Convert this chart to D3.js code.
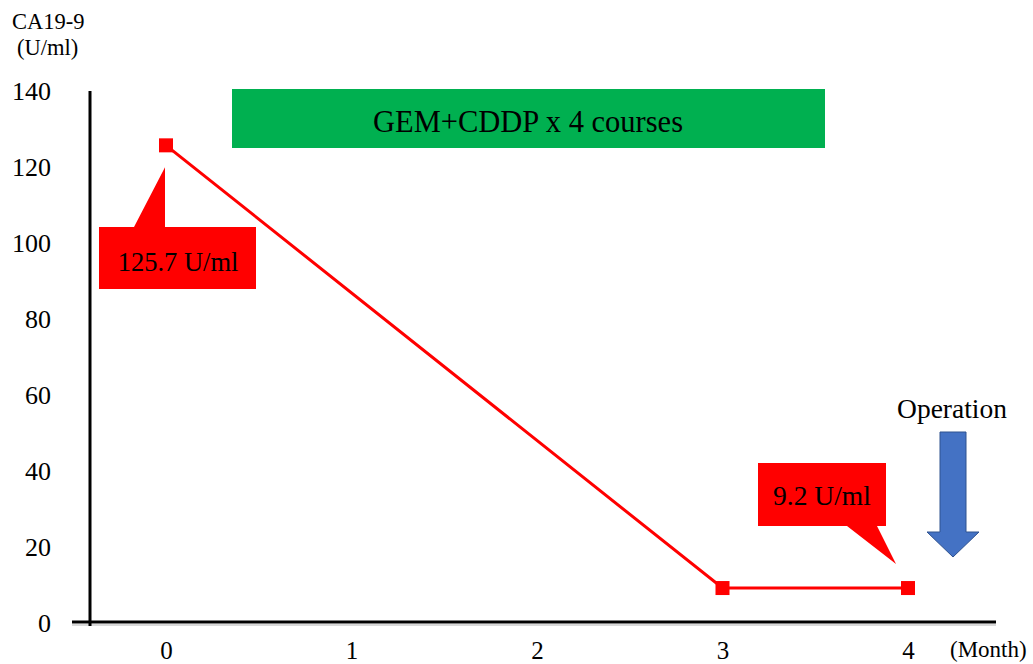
<!DOCTYPE html>
<html>
<head>
<meta charset="utf-8">
<script src="https://cdn.jsdelivr.net/npm/d3@7"></script>
<style>
  body { margin: 0; background: #fff; }
  svg text { font-family: "Liberation Serif", "Times New Roman", serif; }
</style>
</head>
<body>
<div id="chart"></div>
<script>
// 数据
const months = [0, 3, 4]
const ca199 = [125.7, 9.2, 9.2]
const xTicks = [0, 1, 2, 3, 4]
const yTicks = [0, 20, 40, 60, 80, 100, 120, 140]
const labels = ['125.7 U/ml', '9.2 U/ml']

const W = 1033
const H = 664
const SERIF = '"Liberation Serif", "Times New Roman", serif'

const svg = d3.select('#chart').append('svg')
  .attr('width', W)
  .attr('height', H)

const x = d3.scaleLinear().domain([0, 4]).range([166, 908])
const y = d3.scaleLinear().domain([0, 140]).range([623, 91])

// y 轴刻度文字
const yAxis = svg.append('g')
  .attr('transform', 'translate(51,0)')
  .call(d3.axisLeft(y).tickValues(yTicks).tickSize(0).tickPadding(0))
  .attr('font-family', SERIF)
  .attr('font-size', 26)
yAxis.select('.domain').remove()
yAxis.selectAll('text')
  .attr('fill', '#000')
  .attr('dy', '0.32em')

// x 轴刻度文字（原图底部被裁，这里略上移以保证完整）
const xAxis = svg.append('g')
  .attr('transform', 'translate(0,659)')
  .call(d3.axisBottom(x).tickValues(xTicks).tickFormat(d3.format('d')).tickSize(0).tickPadding(0))
  .attr('font-family', SERIF)
  .attr('font-size', 25)
xAxis.select('.domain').remove()
xAxis.selectAll('text')
  .attr('fill', '#000')
  .attr('y', 0)
  .attr('dy', 0)

// 轴线
svg.append('line')
  .attr('x1', 72).attr('x2', 996)
  .attr('y1', y(0) + 2).attr('y2', y(0) + 2)
  .attr('stroke', '#d9d9d9').attr('stroke-width', 2)
svg.append('line')
  .attr('x1', 72).attr('x2', 996)
  .attr('y1', y(0) - 1).attr('y2', y(0) - 1)
  .attr('stroke', '#000').attr('stroke-width', 3)
svg.append('line')
  .attr('x1', 90).attr('x2', 90)
  .attr('y1', y(140)).attr('y2', y(0) + 3)
  .attr('stroke', '#000').attr('stroke-width', 3)

// 坐标轴标题
svg.append('text').attr('x', 12).attr('y', 29).attr('font-size', 22.5).text('CA19-9')
svg.append('text').attr('x', 17).attr('y', 55).attr('font-size', 22.5).text('(U/ml)')
svg.append('text').attr('x', 950).attr('y', 657).attr('font-size', 23).text('(Month)')

// 治疗区间
svg.append('rect')
  .attr('x', 232).attr('y', 89).attr('width', 593).attr('height', 59)
  .attr('fill', '#00b050')
svg.append('text')
  .attr('x', 528).attr('y', 121).attr('dy', '0.35em')
  .attr('text-anchor', 'middle').attr('font-size', 30.5)
  .text('GEM+CDDP x 4 courses')

// 折线
const pts = months.map((m, i) => [m, ca199[i]])
svg.append('path')
  .datum(pts)
  .attr('fill', 'none')
  .attr('stroke', '#ff0000')
  .attr('stroke-width', 3)
  .attr('d', d3.line().x(d => x(d[0])).y(d => y(d[1])))

svg.selectAll('rect.pt')
  .data(pts)
  .enter()
  .append('rect')
  .attr('class', 'pt')
  .attr('x', d => x(d[0]) - 7)
  .attr('y', d => y(d[1]) - 7)
  .attr('width', 14).attr('height', 14)
  .attr('fill', '#ff0000')

// 标注框 1
svg.append('path')
  .attr('d', 'M99,227 H134 L' + (x(0) - 1) + ',' + (y(ca199[0]) + 22) + ' V227 H256 V289 H99 Z')
  .attr('fill', '#ff0000')
svg.append('text')
  .attr('x', 178).attr('y', 262).attr('dy', '0.35em')
  .attr('text-anchor', 'middle').attr('font-size', 26.5)
  .text(labels[0])

// 标注框 2
svg.append('path')
  .attr('d', 'M758,463 H886 V526 H877 L' + (x(4) - 12) + ',' + (y(ca199[2]) - 24) + ' L847,526 H758 Z')
  .attr('fill', '#ff0000')
svg.append('text')
  .attr('x', 822).attr('y', 495).attr('dy', '0.35em')
  .attr('text-anchor', 'middle').attr('font-size', 27.5)
  .text(labels[1])

// 手术箭头
svg.append('path')
  .attr('d', 'M940,432 H966 V532 H979 L953,557 L927,532 H940 Z')
  .attr('fill', '#4472c4')
  .attr('stroke', '#2f528f')
  .attr('stroke-width', 1)
svg.append('text')
  .attr('x', 952).attr('y', 408).attr('dy', '0.35em')
  .attr('text-anchor', 'middle').attr('font-size', 27.5)
  .text('Operation')
</script>
</body>
</html>
